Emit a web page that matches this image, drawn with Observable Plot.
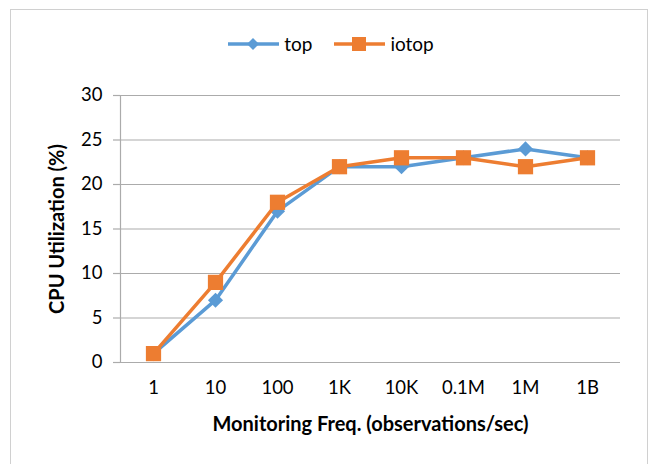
<!DOCTYPE html>
<html>
<head>
<meta charset="utf-8">
<script src="https://cdn.jsdelivr.net/npm/d3@7"></script>
<script src="https://cdn.jsdelivr.net/npm/@observablehq/plot@0.6"></script>
<style>
  body { margin: 0; background: #fff; font-family: Lato, "Open Sans", sans-serif; overflow: hidden; }
  #wrap { position: relative; width: 648px; height: 464px; }
  #border { position: absolute; left: 10px; top: 9px; width: 636px; height: 470px; border: 1px solid #d0d0d0; }
  #legend { position: relative; height: 70px; display: flex; justify-content: center; align-items: flex-start; padding-left: 14px; box-sizing: border-box; padding-top: 33px; font-size: 19px; line-height: 22px; color: #000; }
  .item { display: flex; align-items: center; margin: 0 11px; }
  .item svg { margin-right: 5px; }
  #chart { position: relative; }
</style>
</head>
<body>
<div id="wrap">
  <div id="border"></div>
  <div id="legend"></div>
  <div id="chart"></div>
</div>
<script>
const categories = ["1", "10", "100", "1K", "10K", "0.1M", "1M", "1B"];
const topValues = [1, 7, 17, 22, 22, 23, 24, 23];
const iotopValues = [1, 9, 18, 22, 23, 23, 22, 23];
const seriesNames = ["top", "iotop"];
const seriesColors = ["#5B9BD5", "#ED7D31"];
const yTicks = [0, 5, 10, 15, 20, 25, 30];
const xTitle = "Monitoring Freq. (observations/sec)";
const yTitle = "CPU Utilization (%)";

const topData = categories.map((c, i) => ({cat: c, v: topValues[i]}));
const iotopData = categories.map((c, i) => ({cat: c, v: iotopValues[i]}));

// Legend
const legend = document.getElementById("legend");
seriesNames.forEach((name, i) => {
  const item = document.createElement("div");
  item.className = "item";
  const marker = i === 0
    ? `<polygon points="25,3 31,9 25,15 19,9" fill="${seriesColors[i]}"/>`
    : `<rect x="18" y="2" width="14" height="14" fill="${seriesColors[i]}"/>`;
  item.innerHTML = `<svg width="51" height="18"><line x1="0" y1="9" x2="51" y2="9" stroke="${seriesColors[i]}" stroke-width="3.5"/>${marker}</svg><span>${name}</span>`;
  legend.appendChild(item);
});

const gridColor = "#ababab";
const plot = Plot.plot({
  width: 648,
  height: 394,
  marginLeft: 120,
  marginRight: 28,
  marginTop: 25,
  marginBottom: 102,
  style: {fontFamily: "Lato, 'Open Sans', sans-serif", fontSize: "18px", color: "#000", background: "transparent"},
  x: {type: "band", domain: categories, padding: 0, label: null},
  y: {domain: [0, 30], label: null},
  marks: [
    Plot.ruleY(yTicks, {stroke: gridColor, strokeWidth: 1.2}),
    Plot.frame({anchor: "left", stroke: gridColor, strokeWidth: 1.2}),
    Plot.axisY({ticks: yTicks, tickSize: 7, tickPadding: 11, stroke: gridColor, strokeWidth: 1.2, label: null, fontSize: 18.5}),
    Plot.axisX({tickSize: 0, tickPadding: 18, label: null, fontSize: 18.5}),
    Plot.line(topData, {x: "cat", y: "v", stroke: seriesColors[0], strokeWidth: 3.5}),
    Plot.dot(topData, {x: "cat", y: "v", symbol: "diamond2", r: 6.8, fill: seriesColors[0], stroke: "none"}),
    Plot.line(iotopData, {x: "cat", y: "v", stroke: seriesColors[1], strokeWidth: 3.5}),
    Plot.dot(iotopData, {x: "cat", y: "v", symbol: "square", r: 8.6, fill: seriesColors[1], stroke: "none"}),
    Plot.text([xTitle], {frameAnchor: "bottom", dy: 62, textAnchor: "middle", lineAnchor: "middle", text: d => d, fontWeight: "bold", fontSize: 20}),
    Plot.text([yTitle], {frameAnchor: "left", dx: -63, rotate: -90, textAnchor: "middle", lineAnchor: "middle", text: d => d, fontWeight: "bold", fontSize: 20})
  ]
});
document.getElementById("chart").appendChild(plot);
</script>
</body>
</html>
